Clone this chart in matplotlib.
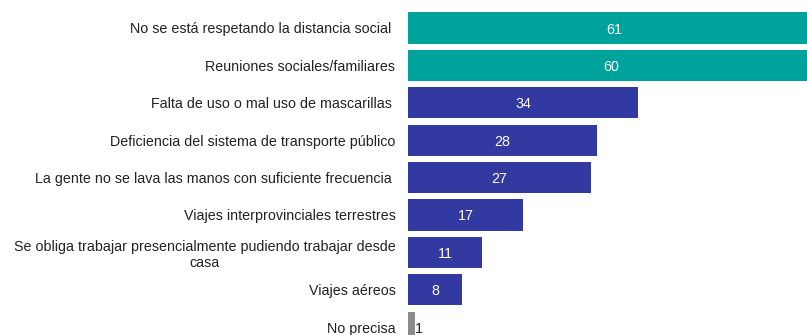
import matplotlib.pyplot as plt
import numpy as np

plt.rcParams['font.family'] = ['Liberation Sans', 'DejaVu Sans']

## ------------ data -----------
causas = [
    'No se está respetando la distancia social ',
    'Reuniones sociales/familiares',
    'Falta de uso o mal uso de mascarillas ',
    'Deficiencia del sistema de transporte público',
    'La gente no se lava las manos con suficiente frecuencia ',
    'Viajes interprovinciales terrestres',
    'Se obliga trabajar presencialmente pudiendo trabajar desde\ncasa',
    'Viajes aéreos',
    'No precisa',
]
porcentajes = [61, 60, 34, 28, 27, 17, 11, 8, 1]

teal = '#00a39b'
azul = '#3239a0'
gris = '#8c8c8c'
colores = [teal, teal] + [azul] * 6 + [gris]

## ------------ plot -----------
W, H = 807, 335
fig = plt.figure(figsize=(W / 100, H / 100), dpi=100)

# axes runs past the right and bottom edges so the long bars are clipped
x0 = 408
px_unit = 6.76
xmax = 62
top_px, step = 28, 37.4
ax_top = top_px - step / 2
ax_bot = top_px + step * 8.5
ax = fig.add_axes([x0 / W, (H - ax_bot) / H, xmax * px_unit / W, (ax_bot - ax_top) / H])

pos = np.arange(len(causas))
bars = ax.barh(pos, porcentajes, height=0.83, color=colores)
ax.set_xlim(0, xmax)
ax.set_ylim(len(causas) - 0.5, -0.5)

fs = 10.3
for b, v in zip(bars, porcentajes):
    y = b.get_y() + b.get_height() / 2
    if v > 3:
        ax.text(v / 2, y, str(v), ha='center', va='center_baseline', color='white', fontsize=fs)
    else:
        ax.text(v + 0.05, y + 0.02, str(v), ha='left', va='center_baseline', color='#222222', fontsize=fs)

ax.set_yticks(pos)
ax.set_yticklabels(causas, fontsize=fs, color='#222222', multialignment='center', linespacing=1.15)
ax.tick_params(axis='y', length=0, pad=9)
ax.set_xticks([])
for s in ax.spines.values():
    s.set_visible(False)

fig.savefig('out.png', dpi=100)
